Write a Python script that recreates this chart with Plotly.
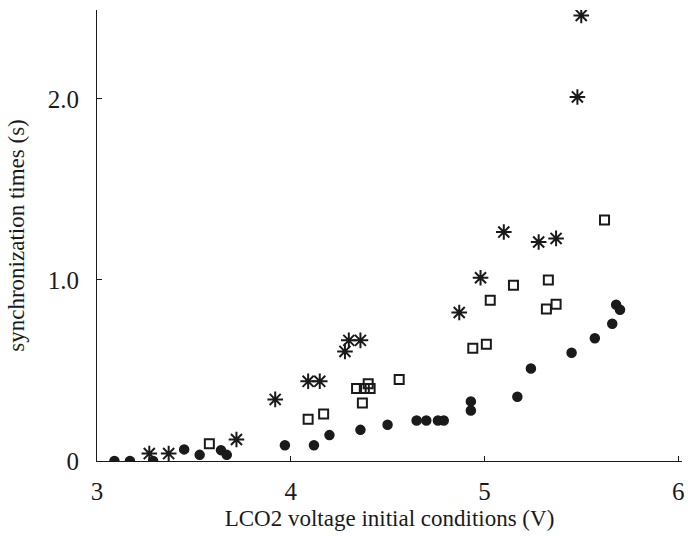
import plotly.graph_objects as go

# filled circles
dot_x = [3.09, 3.17, 3.29, 3.45, 3.53, 3.64, 3.67, 3.97, 4.12, 4.20, 4.36, 4.50,
         4.65, 4.70, 4.76, 4.79, 4.93, 4.93, 5.17, 5.24, 5.45, 5.57, 5.66, 5.68, 5.70]
dot_y = [0.0, 0.0, 0.0, 0.064, 0.034, 0.06, 0.034, 0.087, 0.087, 0.143, 0.172, 0.20,
         0.224, 0.224, 0.224, 0.224, 0.329, 0.279, 0.355, 0.511, 0.598, 0.678, 0.758, 0.863, 0.835]

# open squares
sq_x = [3.58, 4.09, 4.17, 4.34, 4.38, 4.40, 4.41, 4.37, 4.56, 4.94, 5.01,
        5.03, 5.15, 5.32, 5.33, 5.37, 5.62]
sq_y = [0.095, 0.23, 0.26, 0.40, 0.40, 0.426, 0.40, 0.32, 0.45, 0.623, 0.645,
        0.888, 0.971, 0.839, 0.999, 0.865, 1.33]

# asterisks
ast_x = [3.27, 3.37, 3.72, 3.92, 4.09, 4.15, 4.28, 4.30, 4.36, 4.87, 4.98,
         5.10, 5.28, 5.37, 5.48, 5.50]
ast_y = [0.041, 0.041, 0.119, 0.34, 0.44, 0.44, 0.605, 0.666, 0.666, 0.82, 1.012,
         1.264, 1.209, 1.229, 2.01, 2.46]

x_ticks = [3, 4, 5, 6]
x_labels = ["3", "4", "5", "6"]
y_ticks = [0, 1, 2]
y_labels = ["0", "1.0", "2.0"]

ink = "#1a1a1a"
tick_font = dict(family="Liberation Serif", size=25, color=ink)
title_font = dict(family="Liberation Serif", size=23, color=ink)

fig = go.Figure()
fig.add_trace(go.Scatter(x=dot_x, y=dot_y, mode="markers",
                         marker=dict(symbol="circle", size=9, color=ink,
                                     line=dict(width=1.5, color=ink))))
fig.add_trace(go.Scatter(x=sq_x, y=sq_y, mode="markers",
                         marker=dict(symbol="square-open", size=9, color=ink,
                                     line=dict(width=2, color=ink))))
fig.add_trace(go.Scatter(x=ast_x, y=ast_y, mode="markers",
                         marker=dict(symbol="asterisk-open", size=13, color=ink,
                                     line=dict(width=2, color=ink))))

fig.update_layout(
    width=688, height=536,
    margin=dict(l=97, r=4, t=10, b=75),
    paper_bgcolor="white", plot_bgcolor="white",
    showlegend=False,
    font=tick_font,
    xaxis=dict(range=[3, 6.02], tickvals=x_ticks, ticktext=x_labels,
               showgrid=False, zeroline=False, showline=True, linecolor=ink,
               linewidth=1, ticks="inside", ticklen=5, tickcolor=ink,
               tickfont=tick_font, ticklabelstandoff=8,
               title=dict(text="LCO2 voltage initial conditions (V)", font=title_font, standoff=5)),
    yaxis=dict(range=[0, 2.49], tickvals=y_ticks, ticktext=y_labels,
               showgrid=False, zeroline=False, showline=True, linecolor=ink,
               linewidth=1, ticks="inside", ticklen=5, tickcolor=ink,
               tickfont=tick_font, ticklabelstandoff=12,
               title=dict(text="synchronization times (s)", font=title_font, standoff=16)),
)

fig.write_html("out.html")
